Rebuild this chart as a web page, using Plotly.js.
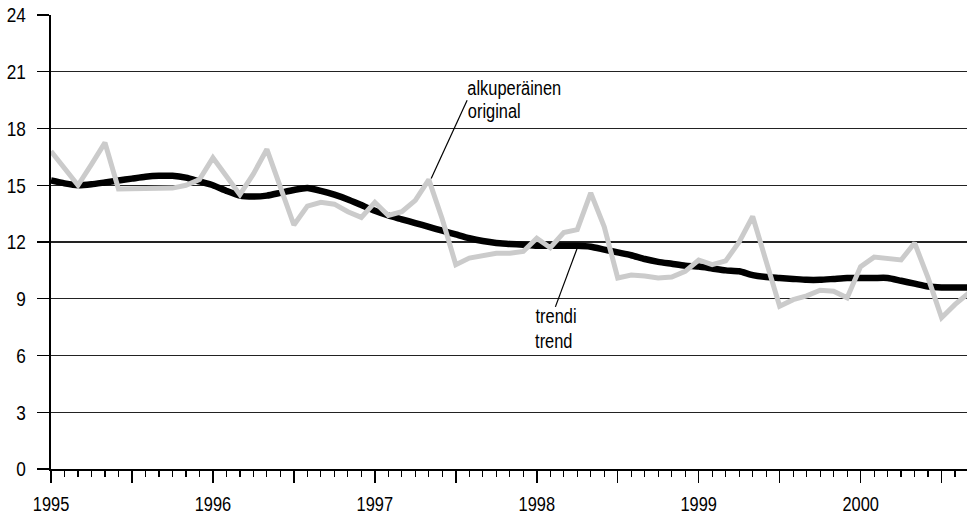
<!DOCTYPE html>
<html>
<head>
<meta charset="utf-8">
<script src="https://cdn.plot.ly/plotly-3.0.1.min.js"></script>
<style>html,body{margin:0;padding:0;background:#fff;}#chart{width:967px;height:516px;}</style>
</head>
<body>
<div id="chart"></div>
<script>
// Monthly series, Jan 1995 .. Sep 2000
const startYear = 1995;
const startMonth = 1;
const original = [
  16.8, 15.9, 15.0, 16.1, 17.25, 14.8, 14.8, 14.8, 14.8, 14.85, 15.0, 15.3,
  16.45, 15.5, 14.5, 15.6, 16.9, 14.9, 12.9, 13.9, 14.1, 14.0, 13.6, 13.3,
  14.1, 13.4, 13.6, 14.2, 15.3, 13.2, 10.8, 11.15, 11.3, 11.4, 11.4, 11.5,
  12.2, 11.7, 12.5, 12.65, 14.6, 12.8, 10.1, 10.25, 10.2, 10.1, 10.15, 10.45,
  11.05, 10.8, 11.0, 12.0, 13.35, 11.0, 8.6, 8.95, 9.15, 9.45, 9.4, 9.05,
  10.7, 11.2, 11.1, 11.05, 11.95, 10.1, 8.0, 8.7, 9.3
];
const trend = [
  15.25, 15.1, 15.0, 15.05, 15.15, 15.25, 15.35, 15.45, 15.5, 15.5, 15.4, 15.2,
  15.0, 14.7, 14.45, 14.4, 14.45, 14.6, 14.75, 14.85, 14.7, 14.5, 14.25, 13.95,
  13.65, 13.4, 13.2, 13.0, 12.8, 12.6, 12.4, 12.2, 12.05, 11.95, 11.9, 11.85,
  11.8, 11.8, 11.8, 11.8, 11.75, 11.6, 11.45, 11.3, 11.1, 10.95, 10.85, 10.75,
  10.7, 10.6, 10.5, 10.45, 10.25, 10.15, 10.1, 10.05, 10.0, 10.0, 10.05, 10.1,
  10.1, 10.1, 10.1, 9.95, 9.8, 9.65, 9.6, 9.6, 9.6
];
const yearLabels = ['1995', '1996', '1997', '1998', '1999', '2000'];
const yTicks = [0, 3, 6, 9, 12, 15, 18, 21, 24];

// month positions as decimal years
const months = original.map((_, i) => startYear + (startMonth - 1 + i) / 12);

const tickvals = [], ticktext = [];
yearLabels.forEach(y => {
  tickvals.push(+y); ticktext.push(y);
  tickvals.push(+y + 0.5); ticktext.push('');
});

const FONT = 'Liberation Sans, Arial, sans-serif';
const NARROW = 0.82; // condensed look of the original typeface

const traces = [
  {x: months, y: trend, type: 'scatter', mode: 'lines', name: 'trendi',
   line: {color: '#000', width: 6.5, shape: 'spline', smoothing: 0.6}},
  {x: months, y: original, type: 'scatter', mode: 'lines', name: 'alkuperäinen',
   line: {color: '#cbcbcb', width: 5}}
];

const layout = {
  width: 967, height: 516,
  margin: {l: 51, r: 0, t: 15, b: 47},
  paper_bgcolor: '#fff', plot_bgcolor: '#fff',
  showlegend: false,
  font: {family: FONT, size: 21, color: '#000'},
  xaxis: {
    range: [1995, 2000.657],
    tickmode: 'array', tickvals: tickvals, ticktext: ticktext,
    ticks: 'outside', ticklen: 12, tickwidth: 1.5, tickcolor: '#000',
    ticklabelstandoff: 4,
    minor: {tickmode: 'linear', tick0: 1995, dtick: 1/12, ticks: 'outside', ticklen: 6, tickwidth: 1.2, tickcolor: '#000', showgrid: false},
    showgrid: false, zeroline: false,
    showline: true, linecolor: '#000', linewidth: 2,
    tickfont: {family: FONT, size: 20, color: '#000'},
    fixedrange: true
  },
  yaxis: {
    range: [0, 24],
    tickmode: 'array', tickvals: yTicks,
    ticks: 'outside', ticklen: 12, tickwidth: 1.2, tickcolor: '#000',
    ticklabelstandoff: 7,
    showgrid: true, gridcolor: '#222', gridwidth: 1.2,
    zeroline: false,
    showline: true, linecolor: '#000', linewidth: 2,
    tickfont: {family: FONT, size: 21, color: '#000'},
    fixedrange: true
  },
  shapes: [
    {type: 'line', xref: 'x', yref: 'y', x0: 1997.348, y0: 15.36, x1: 1997.57, y1: 19.5, line: {color: '#000', width: 1.2}},
    {type: 'line', xref: 'x', yref: 'y', x0: 1998.249, y0: 11.66, x1: 1998.115, y1: 8.57, line: {color: '#000', width: 1.2}}
  ],
  annotations: [
    {xref: 'x', yref: 'y', x: 1997.862, y: 20.14, text: 'alkuperäinen', showarrow: false, xanchor: 'center', yanchor: 'middle', font: {family: FONT, size: 20, color: '#000'}},
    {xref: 'x', yref: 'y', x: 1997.737, y: 18.92, text: 'original', showarrow: false, xanchor: 'center', yanchor: 'middle', font: {family: FONT, size: 20, color: '#000'}},
    {xref: 'x', yref: 'y', x: 1998.121, y: 8.07, text: 'trendi', showarrow: false, xanchor: 'center', yanchor: 'middle', font: {family: FONT, size: 20, color: '#000'}},
    {xref: 'x', yref: 'y', x: 1998.105, y: 6.75, text: 'trend', showarrow: false, xanchor: 'center', yanchor: 'middle', font: {family: FONT, size: 20, color: '#000'}}
  ]
};

Plotly.newPlot('chart', traces, layout, {displayModeBar: false, staticPlot: true}).then(gd => {
  gd.querySelectorAll('.xtick text, .ytick text, .annotation-text').forEach(el => {
    if (!el.textContent) return;
    const w = el.getComputedTextLength();
    if (w > 0) {
      el.setAttribute('textLength', (w * NARROW).toFixed(2));
      el.setAttribute('lengthAdjust', 'spacingAndGlyphs');
    }
  });
});
</script>
</body>
</html>
